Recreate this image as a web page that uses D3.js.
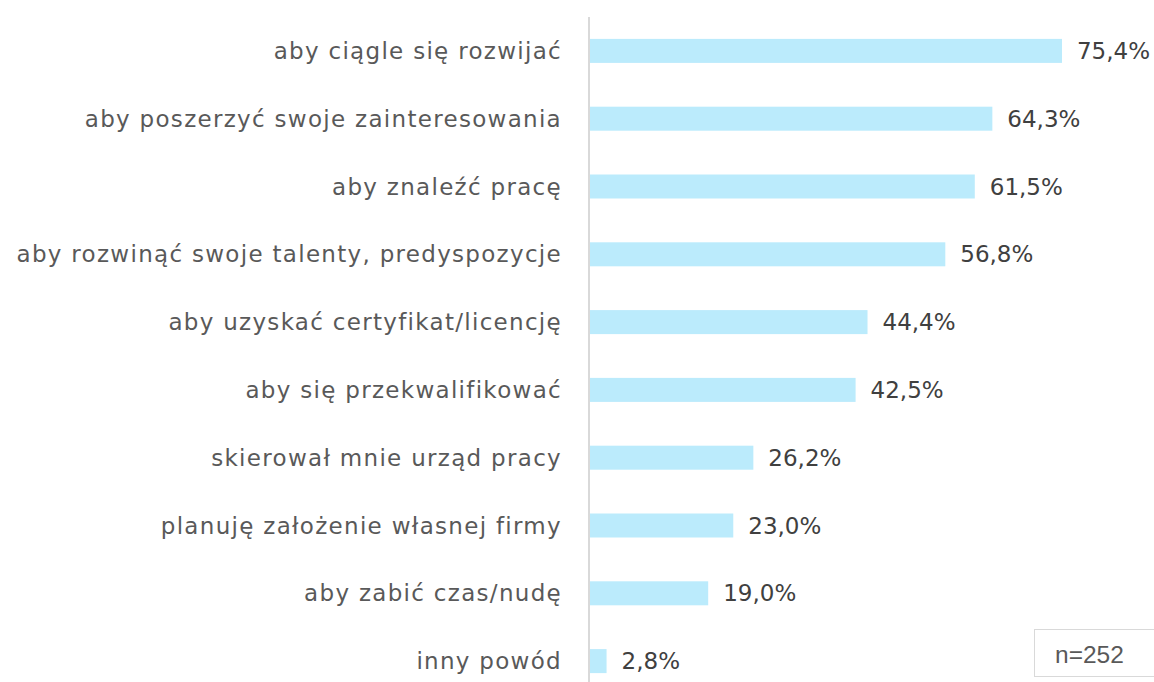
<!DOCTYPE html>
<html>
<head>
  <meta charset="utf-8">
  <script src="https://d3js.org/d3.v7.min.js"></script>
  <style>
    body { margin: 0; background: #fff; }
  </style>
</head>
<body>
  <div id="chart"></div>
  <script>
    const categories = [
      "aby ciągle się rozwijać",
      "aby poszerzyć swoje zainteresowania",
      "aby znaleźć pracę",
      "aby rozwinąć swoje talenty, predyspozycje",
      "aby uzyskać certyfikat/licencję",
      "aby się przekwalifikować",
      "skierował mnie urząd pracy",
      "planuję założenie własnej firmy",
      "aby zabić czas/nudę",
      "inny powód"
    ];
    const values = [75.4, 64.3, 61.5, 56.8, 44.4, 42.5, 26.2, 23.0, 19.0, 2.8];
    const valueLabels = ["75,4%", "64,3%", "61,5%", "56,8%", "44,4%", "42,5%", "26,2%", "23,0%", "19,0%", "2,8%"];
    const note = "n=252";

    const width = 1154, height = 682;
    const axisX = 589;

    const svg = d3.select("#chart")
      .append("svg")
      .attr("width", width)
      .attr("height", height);

    const x = d3.scaleLinear()
      .domain([0, 80])
      .range([axisX, axisX + 6.273 * 80]);

    const y = d3.scaleBand()
      .domain(categories)
      .range([17, 695])
      .paddingInner(0.646)
      .paddingOuter(0.323);

    const font = "'Century Gothic', 'URW Gothic', 'DejaVu Sans', sans-serif";

    // bars
    svg.selectAll(".bar")
      .data(values)
      .enter()
      .append("rect")
      .attr("class", "bar")
      .attr("x", x(0))
      .attr("y", (d, i) => y(categories[i]))
      .attr("width", d => x(d) - x(0))
      .attr("height", y.bandwidth())
      .attr("fill", "#bbebfc");

    // axis line
    svg.append("line")
      .attr("x1", axisX).attr("x2", axisX)
      .attr("y1", 17).attr("y2", height)
      .attr("stroke", "#d9d9d9")
      .attr("stroke-width", 2);

    // category labels
    svg.selectAll(".cat")
      .data(categories)
      .enter()
      .append("text")
      .attr("class", "cat")
      .attr("x", 562)
      .attr("y", d => y(d) + y.bandwidth() / 2)
      .attr("dy", "0.35em")
      .attr("text-anchor", "end")
      .attr("font-family", font)
      .attr("font-size", 23)
      .attr("letter-spacing", 1.3)
      .attr("fill", "#595959")
      .text(d => d);

    // value labels
    svg.selectAll(".val")
      .data(values)
      .enter()
      .append("text")
      .attr("class", "val")
      .attr("x", d => x(d) + 15)
      .attr("y", (d, i) => y(categories[i]) + y.bandwidth() / 2)
      .attr("dy", "0.35em")
      .attr("font-family", font)
      .attr("font-size", 23)
      .attr("fill", "#404040")
      .text((d, i) => valueLabels[i]);

    // n box
    svg.append("rect")
      .attr("x", 1034.5).attr("y", 629.5)
      .attr("width", 130).attr("height", 47)
      .attr("fill", "#fff")
      .attr("stroke", "#d9d9d9");

    svg.append("text")
      .attr("x", 1055)
      .attr("y", 654)
      .attr("dy", "0.35em")
      .attr("font-family", "'Liberation Sans', Arial, sans-serif")
      .attr("font-size", 24.5)
      .attr("fill", "#595959")
      .text(note);
  </script>
</body>
</html>
